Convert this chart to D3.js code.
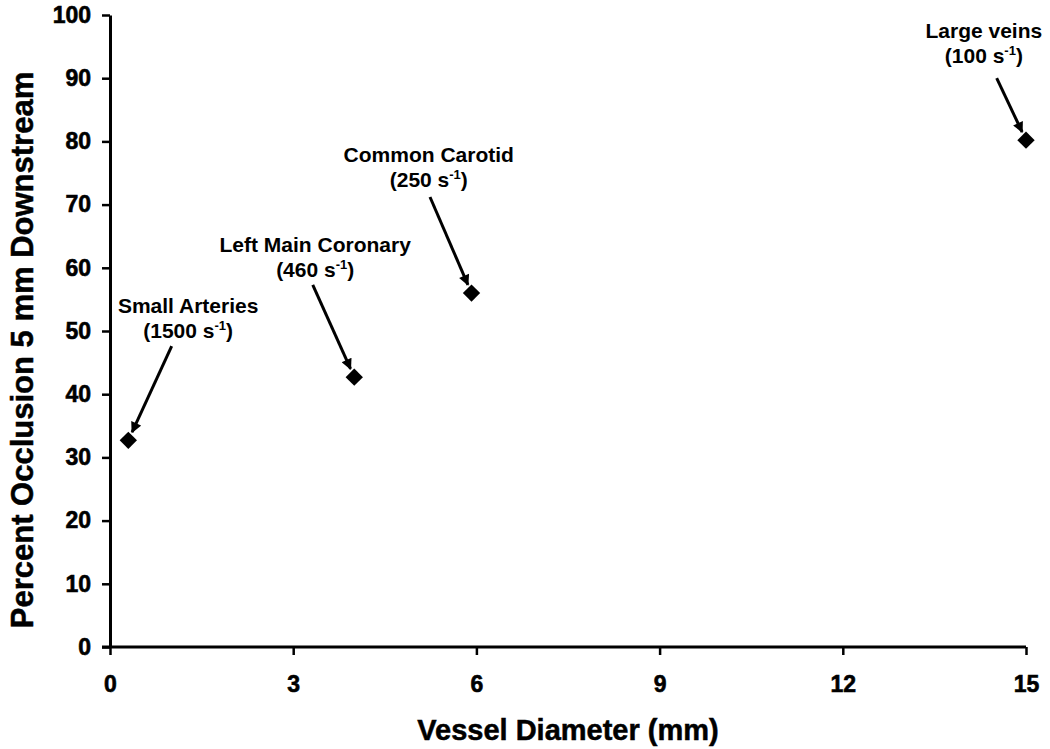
<!DOCTYPE html>
<html>
<head>
<meta charset="utf-8">
<script src="https://cdn.jsdelivr.net/npm/d3@7"></script>
<style>
  body { margin: 0; background: #fff; }
  svg text { font-family: "Liberation Sans", Arial, sans-serif; font-weight: bold; fill: #000; }
</style>
</head>
<body>
<svg id="chart" width="1050" height="749"></svg>
<script>
// vessel diameter (mm) vs percent occlusion 5 mm downstream
var vessels = ["Small Arteries", "Left Main Coronary", "Common Carotid", "Large veins"];
var shearRates = ["1500", "460", "250", "100"];
var diameters = [0.3, 4.0, 5.92, 15.0];
var occlusion = [32.7, 42.7, 56.0, 80.2];

// label anchors and arrow tails, in data units
var labelX = [1.28, 3.36, 5.22, 14.31];
var labelY = [52.8, 62.5, 76.7, 96.4];
var arrowX = [1.01, 3.32, 5.24, 14.52];
var arrowY = [47.6, 57.3, 71.2, 90.0];

var xTicks = [0, 3, 6, 9, 12, 15];
var yTicks = [0, 10, 20, 30, 40, 50, 60, 70, 80, 90, 100];

var w = 1050, h = 749;
var margin = { left: 110, right: 24, top: 15, bottom: 102 };

var svg = d3.select("#chart");

var xScale = d3.scaleLinear().domain([0, 15]).range([margin.left, w - margin.right]);
var yScale = d3.scaleLinear().domain([0, 100]).range([h - margin.bottom, margin.top]);

// arrow head
svg.append("defs").append("marker")
    .attr("id", "head")
    .attr("viewBox", "0 0 10 10")
    .attr("refX", 9)
    .attr("refY", 5)
    .attr("markerWidth", 4.2)
    .attr("markerHeight", 3.6)
    .attr("orient", "auto")
    .attr("markerUnits", "strokeWidth")
    .append("path")
    .attr("d", "M0,0 L10,5 L0,10 Z")
    .attr("fill", "#000");

// axes
var xAxis = svg.append("g")
    .attr("transform", `translate(0,${h - margin.bottom})`)
    .call(d3.axisBottom(xScale).tickValues(xTicks).tickSize(8).tickSizeOuter(0).tickPadding(21));

var yAxis = svg.append("g")
    .attr("transform", `translate(${margin.left},0)`)
    .call(d3.axisLeft(yScale).tickValues(yTicks).tickSize(8).tickSizeOuter(0).tickPadding(11));

[xAxis, yAxis].forEach(function(ax) {
    ax.select(".domain").attr("stroke", "#000").attr("stroke-width", 3);
    ax.selectAll(".tick line").attr("stroke", "#000").attr("stroke-width", 2.5);
    ax.selectAll(".tick text")
        .style("font-size", "23px")
        .attr("fill", "#000")
        .attr("stroke", "#000")
        .attr("stroke-width", 0.6);
});
// extend the x domain line to meet the y axis
xAxis.select(".domain").attr("d", `M${margin.left - 8},0H${w - margin.right}`);

// axis titles
svg.append("text")
    .attr("x", (margin.left + w - margin.right) / 2)
    .attr("y", 740)
    .attr("text-anchor", "middle")
    .attr("stroke", "#000")
    .attr("stroke-width", 0.5)
    .style("font-size", "29px")
    .text("Vessel Diameter (mm)");

svg.append("text")
    .attr("transform", "translate(33,350) rotate(-90)")
    .attr("text-anchor", "middle")
    .attr("stroke", "#000")
    .attr("stroke-width", 0.5)
    .style("font-size", "31px")
    .text("Percent Occlusion 5 mm Downstream");

// arrows (drawn before points)
var pts = diameters.map(function(d, i) {
    return { x: d, y: occlusion[i], lx: labelX[i], ly: labelY[i], ax: arrowX[i], ay: arrowY[i], name: vessels[i], rate: shearRates[i] };
});

svg.selectAll(".arrow")
    .data(pts)
    .enter().append("line")
    .attr("class", "arrow")
    .each(function(d) {
        var x1 = xScale(d.ax), y1 = yScale(d.ay);
        var x2 = xScale(d.x), y2 = yScale(d.y);
        var len = Math.hypot(x2 - x1, y2 - y1);
        var gap = 9;
        d3.select(this)
            .attr("x1", x1).attr("y1", y1)
            .attr("x2", x2 - (x2 - x1) * gap / len)
            .attr("y2", y2 - (y2 - y1) * gap / len);
    })
    .attr("stroke", "#000")
    .attr("stroke-width", 3)
    .attr("marker-end", "url(#head)");

// diamond markers
svg.selectAll(".dot")
    .data(pts)
    .enter().append("path")
    .attr("class", "dot")
    .attr("d", d3.symbol().type(d3.symbolSquare).size(150))
    .attr("transform", d => `translate(${xScale(d.x)},${yScale(d.y)}) rotate(45)`)
    .attr("fill", "#000");

// labels
var labels = svg.selectAll(".label")
    .data(pts)
    .enter().append("text")
    .attr("class", "label")
    .attr("text-anchor", "middle")
    .style("font-size", "21px");

labels.append("tspan")
    .attr("x", d => xScale(d.lx))
    .attr("y", d => yScale(d.ly))
    .text(d => d.name);

var second = labels.append("tspan")
    .attr("x", d => xScale(d.lx))
    .attr("y", d => yScale(d.ly) + 25)
    .text(d => "(" + d.rate + " s");
second.append("tspan")
    .attr("dy", -8)
    .style("font-size", "13px")
    .text("-1");
second.append("tspan")
    .attr("dy", 8)
    .text(")");
</script>
</body>
</html>
